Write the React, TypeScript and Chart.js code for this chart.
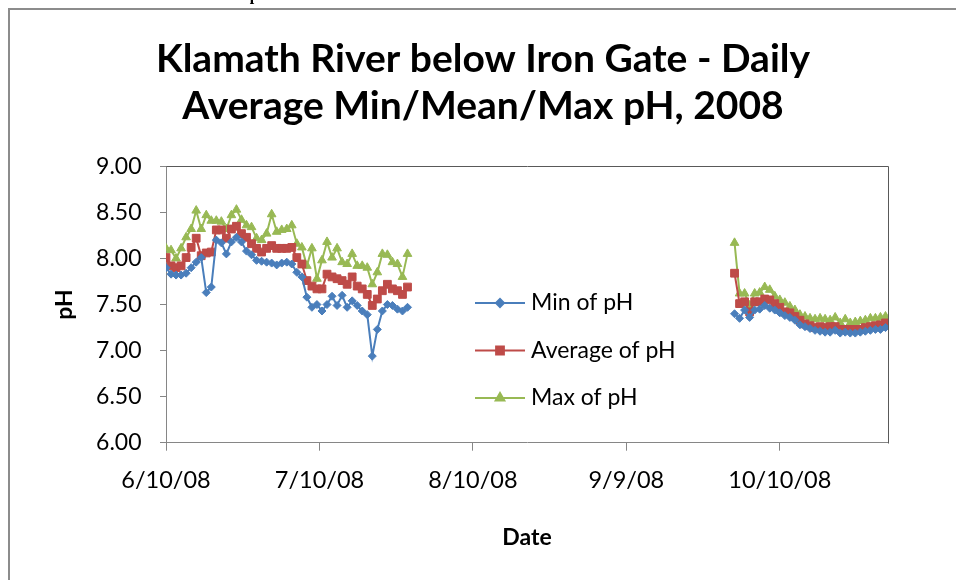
import React, { useEffect, useRef } from "react";
import { Chart, registerables } from "chart.js";
import { drawPoint } from "chart.js/helpers";

Chart.register(...registerables);

// ---- data ----
const summerDates = [
  "6/10/08", "6/11/08", "6/12/08", "6/13/08", "6/14/08", "6/15/08", "6/16/08", "6/17/08", "6/18/08", "6/19/08",
  "6/20/08", "6/21/08", "6/22/08", "6/23/08", "6/24/08", "6/25/08", "6/26/08", "6/27/08", "6/28/08", "6/29/08",
  "6/30/08", "7/1/08", "7/2/08", "7/3/08", "7/4/08", "7/5/08", "7/6/08", "7/7/08", "7/8/08", "7/9/08",
  "7/10/08", "7/11/08", "7/12/08", "7/13/08", "7/14/08", "7/15/08", "7/16/08", "7/17/08", "7/18/08", "7/19/08",
  "7/20/08", "7/21/08", "7/22/08", "7/23/08", "7/24/08", "7/25/08", "7/26/08", "7/27/08", "7/28/08",
];
const fallDates = [
  "10/1/08", "10/2/08", "10/3/08", "10/4/08", "10/5/08", "10/6/08", "10/7/08", "10/8/08", "10/9/08", "10/10/08",
  "10/11/08", "10/12/08", "10/13/08", "10/14/08", "10/15/08", "10/16/08", "10/17/08", "10/18/08", "10/19/08", "10/20/08",
  "10/21/08", "10/22/08", "10/23/08", "10/24/08", "10/25/08", "10/26/08", "10/27/08", "10/28/08", "10/29/08", "10/30/08",
  "10/31/08",
];

const minSummer = [
  7.90, 7.83, 7.82, 7.82, 7.84, 7.90, 7.96, 8.01, 7.63, 7.69,
  8.20, 8.17, 8.05, 8.18, 8.23, 8.18, 8.08, 8.04, 7.98, 7.97,
  7.96, 7.95, 7.93, 7.95, 7.96, 7.94, 7.85, 7.80, 7.58, 7.47,
  7.50, 7.43, 7.50, 7.59, 7.49, 7.60, 7.47, 7.54, 7.49, 7.43,
  7.39, 6.94, 7.23, 7.43, 7.50, 7.49, 7.45, 7.43, 7.47,
];
const avgSummer = [
  8.01, 7.92, 7.90, 7.92, 8.01, 8.12, 8.22, 8.03, 8.06, 8.07,
  8.31, 8.31, 8.22, 8.32, 8.35, 8.27, 8.23, 8.16, 8.11, 8.07,
  8.11, 8.14, 8.11, 8.11, 8.11, 8.12, 8.01, 7.94, 7.76, 7.70,
  7.67, 7.67, 7.83, 7.80, 7.78, 7.76, 7.72, 7.80, 7.70, 7.67,
  7.61, 7.49, 7.56, 7.65, 7.72, 7.67, 7.65, 7.61, 7.69,
];
const maxSummer = [
  8.11, 8.09, 8.00, 8.11, 8.23, 8.32, 8.52, 8.32, 8.47, 8.41,
  8.41, 8.40, 8.32, 8.47, 8.53, 8.42, 8.36, 8.34, 8.22, 8.20,
  8.27, 8.48, 8.29, 8.31, 8.32, 8.36, 8.16, 8.12, 7.92, 8.11,
  7.78, 7.98, 8.18, 8.01, 8.11, 7.96, 7.94, 8.05, 7.92, 7.92,
  7.90, 7.72, 7.85, 8.05, 8.04, 7.96, 7.94, 7.80, 8.05,
];

const minFall = [
  7.40, 7.35, 7.44, 7.36, 7.44, 7.45, 7.49, 7.46, 7.44, 7.41,
  7.38, 7.36, 7.33, 7.28, 7.26, 7.24, 7.22, 7.21, 7.20, 7.20,
  7.22, 7.19, 7.20, 7.19, 7.19, 7.20, 7.21, 7.22, 7.23, 7.23,
  7.25,
];
const avgFall = [
  7.84, 7.51, 7.53, 7.42, 7.53, 7.53, 7.56, 7.55, 7.51, 7.47,
  7.42, 7.41, 7.37, 7.33, 7.29, 7.27, 7.25, 7.26, 7.25, 7.26,
  7.26, 7.23, 7.23, 7.23, 7.23, 7.23, 7.25, 7.26, 7.27, 7.28,
  7.30,
];
const maxFall = [
  8.17, 7.62, 7.62, 7.49, 7.62, 7.63, 7.69, 7.66, 7.59, 7.55,
  7.52, 7.48, 7.44, 7.39, 7.37, 7.35, 7.34, 7.35, 7.34, 7.33,
  7.36, 7.30, 7.34, 7.30, 7.31, 7.32, 7.33, 7.35, 7.35, 7.36,
  7.37,
];

const seriesLabels = ["Min of pH", "Average of pH", "Max of pH"];
const titleLines = ["Klamath River below Iron Gate - Daily", "Average Min/Mean/Max pH, 2008"];
const xAxisTitle = "Date";
const yAxisTitle = "pH";
const headingFragment = "Results pH";
const axisOriginDate = "6/10/08";
const xTickStepDays = 30.5;
const xMaxDays = 143.5;
const yMin = 6;
const yMax = 9;
const yStep = 0.5;

// ---- helpers ----
function dayNum(s: string): number {
  const [m, d, y] = s.split("/").map(Number);
  return Date.UTC(2000 + y, m - 1, d) / 86400000;
}
const originDay = dayNum(axisOriginDate);

function dateLabel(v: number): string {
  const dt = new Date((originDay + Math.floor(v + 1e-9)) * 86400000);
  return `${dt.getUTCMonth() + 1}/${dt.getUTCDate()}/${String(dt.getUTCFullYear()).slice(2)}`;
}

function buildSeries(summer: number[], fall: number[]) {
  const a = summer.map((y, i) => ({ x: dayNum(summerDates[i]) - originDay, y }));
  const gapX = dayNum(summerDates[summerDates.length - 1]) - originDay + 1;
  const b = fall.map((y, i) => ({ x: dayNum(fallDates[i]) - originDay, y }));
  return [...a, { x: gapX, y: null as any }, ...b];
}

const FONT = "Lato, 'DejaVu Sans', sans-serif";

const frameAndLegend = {
  id: "frameAndLegend",
  afterDatasetsDraw(chart: any, _args: any, opts: any) {
    const { ctx, chartArea } = chart;
    ctx.save();
    ctx.strokeStyle = opts.borderColor;
    ctx.lineWidth = 1;
    ctx.beginPath();
    ctx.moveTo(Math.round(chartArea.left) + 0.5, Math.round(chartArea.top) + 0.5);
    ctx.lineTo(Math.round(chartArea.right) + 0.5, Math.round(chartArea.top) + 0.5);
    ctx.lineTo(Math.round(chartArea.right) + 0.5, Math.round(chartArea.bottom) + 0.5);
    ctx.stroke();

    chart.data.datasets.forEach((ds: any, i: number) => {
      const y = opts.y0 + i * opts.gap;
      ctx.strokeStyle = ds.borderColor;
      ctx.lineWidth = ds.borderWidth;
      ctx.beginPath();
      ctx.moveTo(opts.x0, y);
      ctx.lineTo(opts.x0 + opts.len, y);
      ctx.stroke();
      ctx.fillStyle = ds.pointBackgroundColor;
      ctx.strokeStyle = ds.pointBorderColor;
      drawPoint(ctx, { pointStyle: ds.pointStyle, rotation: 0, radius: ds.pointRadius, borderWidth: 1 }, opts.x0 + opts.len / 2, y);
      ctx.fillStyle = "#000";
      ctx.font = `${opts.fontSize}px ${FONT}`;
      ctx.textBaseline = "middle";
      ctx.textAlign = "left";
      ctx.fillText(ds.label, opts.x0 + opts.len + opts.textGap, y);
    });
    ctx.restore();
  },
};

export default function App() {
  const ref = useRef<HTMLCanvasElement | null>(null);

  useEffect(() => {
    if (!ref.current) return;
    const mk = (label: string, data: any[], line: string, fill: string, style: string, r: number) => ({
      label,
      data,
      borderColor: line,
      backgroundColor: fill,
      pointBackgroundColor: fill,
      pointBorderColor: fill,
      pointStyle: style,
      pointRadius: r,
      pointBorderWidth: 1,
      borderWidth: 2,
      tension: 0,
      spanGaps: false,
      yAxisID: "y",
    });
    const chart = new Chart(ref.current, {
      type: "line",
      data: {
        datasets: [
          mk(seriesLabels[0], buildSeries(minSummer, minFall), "#4A7EBB", "#4A7EBB", "rectRot", 4),
          mk(seriesLabels[1], buildSeries(avgSummer, avgFall), "#BE4B48", "#BE4B48", "rect", 5.5),
          mk(seriesLabels[2], buildSeries(maxSummer, maxFall), "#98B954", "#98B954", "triangle", 5),
        ] as any,
      },
      options: {
        responsive: false,
        animation: false,
        events: [],
        layout: { padding: 0 },
        plugins: {
          legend: { display: false },
          tooltip: { enabled: false },
          title: {
            display: true,
            text: titleLines,
            color: "#000",
            font: { family: FONT, size: 39, weight: "bold", lineHeight: 1.21 },
            padding: { top: 26, bottom: 36 },
          },
          frameAndLegend: {
            borderColor: "#595959",
            x0: 465,
            len: 50,
            textGap: 6,
            y0: 293,
            gap: 47.5,
            fontSize: 23,
          },
        } as any,
        scales: {
          x: {
            type: "linear",
            min: 0,
            max: xMaxDays,
            afterFit: (s: any) => {
              s.height = 137.3;
            },
            ticks: {
              stepSize: xTickStepDays,
              includeBounds: false,
              autoSkip: false,
              maxRotation: 0,
              padding: 16,
              color: "#000",
              font: { family: FONT, size: 23.5 },
              callback: (v: any) => dateLabel(Number(v)),
            },
            grid: { drawOnChartArea: false, drawTicks: true, tickLength: 8, color: "#868686" },
            border: { display: true, color: "#868686", width: 1 },
            title: {
              display: true,
              text: xAxisTitle,
              color: "#000",
              font: { family: FONT, size: 23, weight: "bold" },
              padding: { top: 0, bottom: 29 },
            },
          },
          y: {
            type: "linear",
            position: "left",
            min: yMin,
            max: yMax,
            afterFit: (s: any) => {
              s.width = 156;
            },
            ticks: {
              stepSize: yStep,
              padding: 18.5,
              color: "#000",
              font: { family: FONT, size: 23 },
              callback: (v: any) => Number(v).toFixed(2),
            },
            grid: { drawOnChartArea: false, drawTicks: true, tickLength: 6, color: "#868686" },
            border: { display: true, color: "#868686", width: 1 },
            title: {
              display: true,
              text: yAxisTitle,
              color: "#000",
              font: { family: FONT, size: 23, weight: "bold" },
              padding: { top: 41, bottom: 0 },
            },
          },
          rightSpace: {
            type: "linear",
            position: "right",
            min: yMin,
            max: yMax,
            afterFit: (s: any) => {
              s.width = 68;
            },
            ticks: { display: false },
            grid: { display: false, drawTicks: false },
            border: { display: false },
          },
        } as any,
      },
      plugins: [frameAndLegend],
    });
    return () => chart.destroy();
  }, []);

  return (
    <>
      <div
        style={{
          position: "fixed",
          left: 196,
          top: -13,
          font: "bold 16px 'Liberation Serif', serif",
          lineHeight: "16px",
          color: "#000",
          whiteSpace: "nowrap",
        }}
      >
        {headingFragment}
      </div>
      <div
        style={{
          position: "fixed",
          left: 8,
          top: 8,
          width: 960,
          height: 580,
          boxSizing: "border-box",
          borderLeft: "2px solid #8C8C8C",
          borderTop: "2px solid #8C8C8C",
          overflow: "hidden",
          background: "#fff",
        }}
      >
        <canvas ref={ref} width={946} height={570} style={{ display: "block" }} />
      </div>
    </>
  );
}
